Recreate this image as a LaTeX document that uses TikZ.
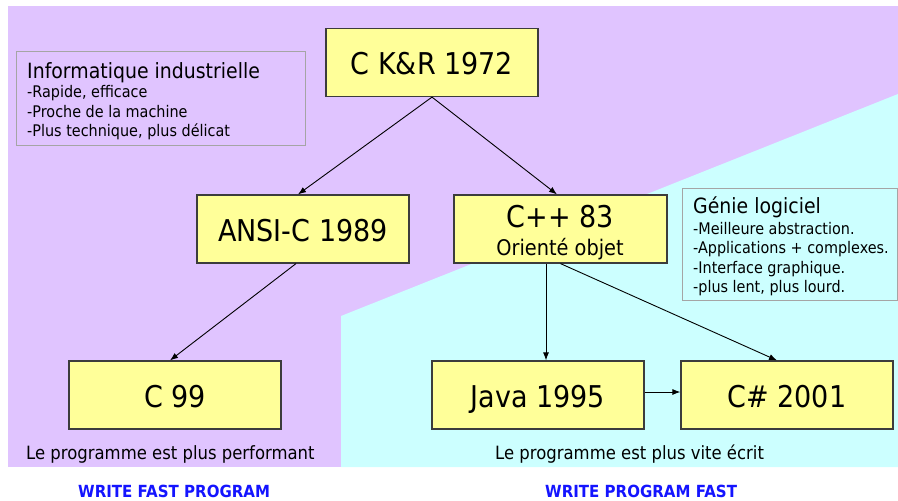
\documentclass[tikz,border=0pt]{standalone}
\usepackage{fontspec}
\setmainfont{DejaVu Sans}[FakeStretch=0.9]
\usetikzlibrary{arrows.meta}

\definecolor{lilac}{RGB}{224,196,255}
\definecolor{aqua}{RGB}{204,255,255}
\definecolor{paleyellow}{RGB}{255,255,153}
\definecolor{boxline}{RGB}{60,60,60}
\definecolor{noteline}{RGB}{165,165,165}
\definecolor{mottoblue}{RGB}{20,20,255}

\tikzset{
  langbox/.style={draw=boxline, fill=paleyellow, line width=1.2pt,
    minimum width=212pt, minimum height=68pt, inner sep=0pt,
    text height=24pt, text depth=0pt, font=\fontsize{30}{36}\selectfont},
  notebox/.style={draw=noteline, line width=1pt, inner sep=0pt},
  notetitle/.style={anchor=base west, inner sep=0pt, font=\fontsize{21}{25}\selectfont},
  noteline/.style={anchor=base west, inner sep=0pt, font=\fontsize{16}{19}\selectfont},
  remark/.style={anchor=base west, inner sep=0pt, font=\fontsize{18.3}{22}\selectfont},
  motto/.style={anchor=base west, inner sep=0pt, text=mottoblue,
    font=\bfseries\fontsize{16.7}{20}\selectfont},
  link/.style={line width=0.9pt, -{Latex[length=8pt,width=6pt]}}
}

\begin{document}
\begin{tikzpicture}[x=1pt,y=-1pt]
\useasboundingbox (0,0) rectangle (898,501);

% two background regions
\fill[lilac] (8,6) rectangle (898,467);
\fill[aqua] (341,316) -- (898,94) -- (898,467) -- (341,467) -- cycle;

% language boxes
\node[langbox] (ckr)    at (432,62.5)  {C K\&R 1972};
\node[langbox] (ansi)   at (303,229)   {ANSI-C 1989};
\node[langbox, minimum width=213pt] (cpp) at (560.5,229) {};
\node[anchor=base, inner sep=0pt, font=\fontsize{30}{36}\selectfont] (cpptitle) at (560.5,227) {C++ 83};
\node[anchor=base, inner sep=0pt, font=\fontsize{21.5}{25}\selectfont] (cppsub) at (560,255) {Orienté objet};
\node[langbox] (c99)    at (175,395)   {C 99};
\node[langbox] (java)   at (538,395)   {Java 1995};
\node[langbox] (csharp) at (787,395)   {C\# 2001};

% notes
\node[notebox, minimum width=289pt, minimum height=94pt] (indus) at (160.5,98) {};
\node[notetitle] (indust) at (27,78)  {Informatique industrielle};
\node[noteline]  (indus1) at (27,97)  {-Rapide, efficace};
\node[noteline]  (indus2) at (27,117) {-Proche de la machine};
\node[noteline]  (indus3) at (27,136) {-Plus technique, plus délicat};

\node[notebox, minimum width=215pt, minimum height=112pt] (genie) at (789.5,244) {};
\node[notetitle] (geniet) at (693,213) {Génie logiciel};
\node[noteline]  (genie1) at (693,234) {-Meilleure abstraction.};
\node[noteline]  (genie2) at (693,253) {-Applications + complexes.};
\node[noteline]  (genie3) at (693,273) {-Interface graphique.};
\node[noteline]  (genie4) at (693,292) {-plus lent, plus lourd.};

% remarks and mottos
\node[remark] (perf)  at (26,459)  {Le programme est plus performant};
\node[remark] (vite)  at (495,459) {Le programme est plus vite écrit};
\node[motto]  (fastp) at (78,497)  {WRITE FAST PROGRAM};
\node[motto]  (progf) at (545,497) {WRITE PROGRAM FAST};

% lineage
\draw[link] (ckr.south) -- ([xshift=-5pt]ansi.north);
\draw[link] (ckr.south) -- ([xshift=-3.5pt]cpp.north);
\draw[link] ([xshift=-7pt]ansi.south) -- ([xshift=-5pt]c99.north);
\draw[link] ([xshift=-14.5pt]cpp.south) -- ([xshift=-14.5pt]cpp.south |- java.north);
\draw[link] (cpp.south) -- ([xshift=-10pt]csharp.north);
\draw[link] ([yshift=3pt]java.east) -- ([yshift=3pt]csharp.west);
\end{tikzpicture}
\end{document}
